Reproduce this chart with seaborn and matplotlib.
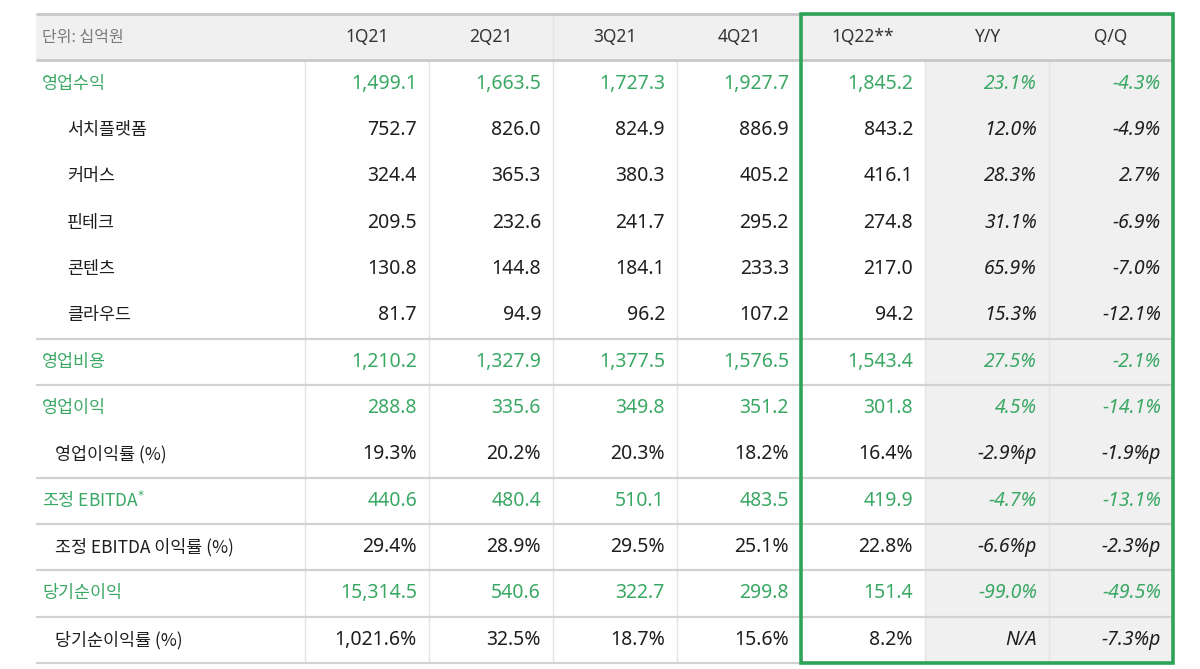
import matplotlib
matplotlib.use("Agg")
import matplotlib.pyplot as plt
from matplotlib.colors import ListedColormap
from matplotlib.patches import Rectangle
import numpy as np
import seaborn as sns

sns.set_style("white")
plt.rcParams['font.family'] = ['Noto Sans CJK KR', 'DejaVu Sans']

# --- 데이터 ---
unit_label = "단위: 십억원"
columns = ["1Q21", "2Q21", "3Q21", "4Q21", "1Q22**", "Y/Y", "Q/Q"]
row_labels = ["영업수익", "서치플랫폼", "커머스", "핀테크", "콘텐츠", "클라우드",
              "영업비용", "영업이익", "영업이익률 (%)", "조정 EBITDA$^{*}$",
              "조정 EBITDA 이익률 (%)", "당기순이익", "당기순이익률 (%)"]
row_level = [0, 2, 2, 2, 2, 2, 0, 0, 1, 0, 1, 0, 1]
row_green = [True, False, False, False, False, False, True, True, False, True, False, True, False]

q1_21 = ["1,499.1", "752.7", "324.4", "209.5", "130.8", "81.7", "1,210.2", "288.8",
         "19.3%", "440.6", "29.4%", "15,314.5", "1,021.6%"]
q2_21 = ["1,663.5", "826.0", "365.3", "232.6", "144.8", "94.9", "1,327.9", "335.6",
         "20.2%", "480.4", "28.9%", "540.6", "32.5%"]
q3_21 = ["1,727.3", "824.9", "380.3", "241.7", "184.1", "96.2", "1,377.5", "349.8",
         "20.3%", "510.1", "29.5%", "322.7", "18.7%"]
q4_21 = ["1,927.7", "886.9", "405.2", "295.2", "233.3", "107.2", "1,576.5", "351.2",
         "18.2%", "483.5", "25.1%", "299.8", "15.6%"]
q1_22 = ["1,845.2", "843.2", "416.1", "274.8", "217.0", "94.2", "1,543.4", "301.8",
         "16.4%", "419.9", "22.8%", "151.4", "8.2%"]
yoy = ["23.1%", "12.0%", "28.3%", "31.1%", "65.9%", "15.3%", "27.5%", "4.5%",
       "-2.9%p", "-4.7%", "-6.6%p", "-99.0%", "N/A"]
qoq = ["-4.3%", "-4.9%", "2.7%", "-6.9%", "-7.0%", "-12.1%", "-2.1%", "-14.1%",
       "-1.9%p", "-13.1%", "-2.3%p", "-49.5%", "-7.3%p"]

table = [q1_21, q2_21, q3_21, q4_21, q1_22, yoy, qoq]
italic_cols = [False, False, False, False, False, True, True]
shaded_cols = [0, 0, 0, 0, 0, 1, 1]

GREEN = "#3aa864"
BLACK = "#1e1e1e"
GRAY_BG = "#f0f0f0"
LINE = "#d2d2d2"

n_rows = len(row_labels) + 1
n_cols = len(columns)
bg = np.array([[1] * n_cols] + [shaded_cols] * len(row_labels))

fig = plt.figure(figsize=(12, 6.69), dpi=100)
ax = fig.add_axes([36 / 1200, 6 / 669, 1137 / 1200, 649 / 669])
sns.heatmap(bg, cmap=ListedColormap(["white", GRAY_BG]), vmin=0, vmax=1, cbar=False,
            xticklabels=False, yticklabels=False, ax=ax)

px = 124.0  # 한 칸 폭 (픽셀)
lab_w = 269 / px
ax.set_xlim(-lab_w, n_cols)
ax.set_ylim(n_rows, 0)
ax.set_axis_off()

# 헤더 배경 (라벨 칸)
ax.add_patch(Rectangle((-lab_w, 0), lab_w, 1, color=GRAY_BG, lw=0, zorder=0.5))

# 선
ax.vlines([0, 1, 2, 3, 5, 6], 1, n_rows, color="#e3e3e3", lw=1, zorder=2)
ax.vlines([2], 0, 1, color="#e3e3e3", lw=1, zorder=2)
ax.hlines([0, 1], -lab_w, n_cols, color="#c8c8c8", lw=2, zorder=3, clip_on=False)
ax.hlines([7, 8, 10, 11, 12, 13, 14], -lab_w, n_cols, color=LINE, lw=1.6,
          zorder=3, clip_on=False)
ax.add_patch(Rectangle((4, 0), 3, n_rows, fill=False, ec="#2ea358", lw=2.6,
                       zorder=6, clip_on=False))

# 헤더 텍스트
ax.text(-lab_w + 6 / px, 0.5, unit_label, ha="left", va="center",
        color="#7a7a7a", fontsize=11.5)
for j, c in enumerate(columns):
    ax.text(j + 0.5, 0.5, c, ha="center", va="center", color="#333333", fontsize=12.5,
            family=["Noto Sans", "DejaVu Sans"])

# 행 라벨
indent = {0: 6, 1: 19, 2: 31}
for i, lab in enumerate(row_labels):
    ax.text(-lab_w + indent[row_level[i]] / px, i + 1.5, lab, ha="left", va="center",
            color=GREEN if row_green[i] else BLACK, fontsize=12.5)

# 값
pad = 12 / px
for j, col in enumerate(table):
    for i, v in enumerate(col):
        ax.text(j + 1 - pad, i + 1.5, v, ha="right", va="center",
                color=GREEN if row_green[i] else BLACK, fontsize=14,
                style="italic" if italic_cols[j] else "normal",
                family=["Noto Sans", "DejaVu Sans"])

fig.savefig("out.png", dpi=100, facecolor="white")
